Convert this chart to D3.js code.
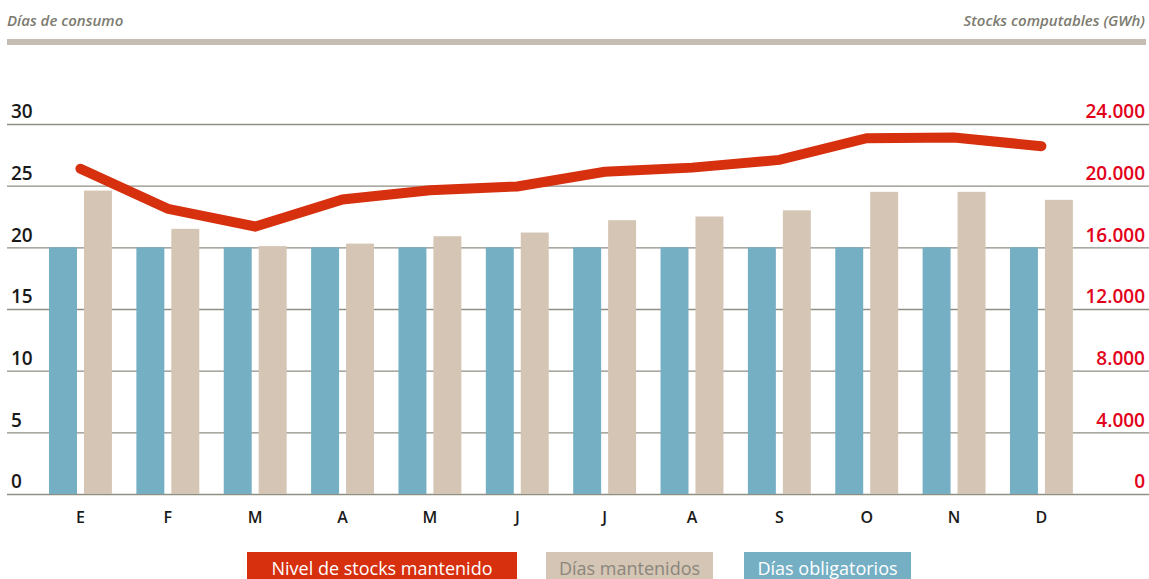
<!DOCTYPE html>
<html>
<head>
<meta charset="utf-8">
<script src="https://cdn.jsdelivr.net/npm/d3@7"></script>
<style>
	body { margin: 0; background: #fff; }
	svg { display: block; font-family: "Open Sans", "Noto Sans", sans-serif; }
</style>
</head>
<body>
<svg id="chart" width="1149" height="579"></svg>
<script>
// meses y valores
var months = ["E", "F", "M", "A", "M2", "J", "J2", "A2", "S", "O", "N", "D"];
var monthLabels = ["E", "F", "M", "A", "M", "J", "J", "A", "S", "O", "N", "D"];
var diasObligatorios = [20, 20, 20, 20, 20, 20, 20, 20, 20, 20, 20, 20];
var diasMantenidos = [24.6, 21.5, 20.1, 20.3, 20.9, 21.2, 22.2, 22.5, 23.0, 24.5, 24.5, 23.85];
var nivelStocks = [21100, 18500, 17350, 19100, 19700, 19950, 20900, 21170, 21670, 23080, 23120, 22560];
var leftTicks = [0, 5, 10, 15, 20, 25, 30];
var rightTicks = [0, 4000, 8000, 12000, 16000, 20000, 24000];

var svg = d3.select("#chart");

var x0 = d3.scaleBand().domain(months).range([36.8, 1085.1]).paddingInner(0.28).paddingOuter(0.14);
var x1 = d3.scaleBand().domain(["obl", "mant"]).range([0, x0.bandwidth()]).paddingInner(0.2);
var y = d3.scaleLinear().domain([0, 30]).range([494, 124]);
var y2 = d3.scaleLinear().domain([0, 24000]).range([494, 124]);

// cabecera
svg.append("text").attr("x", 7).attr("y", 26)
	.style("font-style", "italic").style("font-size", "15px").style("font-weight", 600)
	.style("fill", "#7c7b70").text("Días de consumo");
svg.append("text").attr("x", 1145).attr("y", 26).attr("text-anchor", "end")
	.style("font-style", "italic").style("font-size", "15px").style("font-weight", 600)
	.style("fill", "#7c7b70").text("Stocks computables (GWh)");
svg.append("rect").attr("x", 7).attr("y", 39).attr("width", 1139).attr("height", 6)
	.style("fill", "#c5bdb3");

// rejilla + eje izquierdo
var gridAxis = svg.append("g").attr("transform", "translate(7,0)")
	.call(d3.axisRight(y).tickValues(leftTicks).tickSize(1142).tickFormat(d3.format("d")));
gridAxis.select(".domain").remove();
gridAxis.selectAll("line").attr("stroke", "#8f8e83").attr("stroke-width", 1.3);
gridAxis.selectAll("text")
	.attr("x", 4).attr("dy", "-0.33em").attr("y", 0)
	.attr("text-anchor", "start")
	.style("font-size", "19px").style("font-weight", 600).style("fill", "#1a1a1a")
	.style("font-family", "'Open Sans', sans-serif");

// eje derecho
var rightAxis = svg.append("g").attr("transform", "translate(1145,0)")
	.call(d3.axisLeft(y2).tickValues(rightTicks).tickSize(0)
		.tickFormat(function(d){ return d3.format(",")(d).replace(/,/g, "."); }));
rightAxis.select(".domain").remove();
rightAxis.selectAll("text")
	.attr("x", 0).attr("dy", "-0.33em").attr("y", 0)
	.style("font-size", "19px").style("font-weight", 600).style("fill", "#e2001a")
	.style("font-family", "'Open Sans', sans-serif");

// barras
var groups = svg.append("g").selectAll("g").data(months).enter().append("g")
	.attr("transform", function(d){ return "translate(" + x0(d) + ",0)"; });
groups.append("rect")
	.attr("x", x1("obl")).attr("width", x1.bandwidth())
	.attr("y", function(d, i){ return y(diasObligatorios[i]); })
	.attr("height", function(d, i){ return y(0) - y(diasObligatorios[i]); })
	.style("fill", "#74afc4");
groups.append("rect")
	.attr("x", x1("mant")).attr("width", x1.bandwidth())
	.attr("y", function(d, i){ return y(diasMantenidos[i]); })
	.attr("height", function(d, i){ return y(0) - y(diasMantenidos[i]); })
	.style("fill", "#d5c5b4");

// línea de stocks
var lineFunction = d3.line()
	.x(function(d, i){ return x0(months[i]) + x0.bandwidth() / 2; })
	.y(function(d){ return y2(d); });
svg.append("path").attr("d", lineFunction(nivelStocks))
	.attr("fill", "none").attr("stroke", "#d6300f").attr("stroke-width", 10)
	.attr("stroke-linecap", "round").attr("stroke-linejoin", "miter");

// eje de meses
var xAxis = svg.append("g").attr("transform", "translate(0,494)")
	.call(d3.axisBottom(x0).tickSize(0).tickFormat(function(d, i){ return monthLabels[i]; }));
xAxis.select(".domain").remove();
xAxis.selectAll("text").attr("y", 29).attr("dy", 0)
	.style("font-size", "16px").style("font-weight", 600).style("fill", "#1a1a1a")
	.style("font-family", "'Open Sans', sans-serif");

// leyenda
var legend = [
	{ label: "Nivel de stocks mantenido", x: 247, w: 270, fill: "#d6300f", color: "#ffffff" },
	{ label: "Días mantenidos", x: 546, w: 167, fill: "#d5c5b4", color: "#8a867c" },
	{ label: "Días obligatorios", x: 744, w: 167, fill: "#74afc4", color: "#ffffff" }
];
var lg = svg.append("g").selectAll("g").data(legend).enter().append("g");
lg.append("rect").attr("x", function(d){ return d.x; }).attr("y", 552)
	.attr("width", function(d){ return d.w; }).attr("height", 27)
	.style("fill", function(d){ return d.fill; });
lg.append("text").attr("x", function(d){ return d.x + d.w / 2; }).attr("y", 575)
	.attr("text-anchor", "middle").style("font-size", "18px")
	.style("font-family", "'Open Sans', sans-serif")
	.style("fill", function(d){ return d.color; }).text(function(d){ return d.label; });
</script>
</body>
</html>
